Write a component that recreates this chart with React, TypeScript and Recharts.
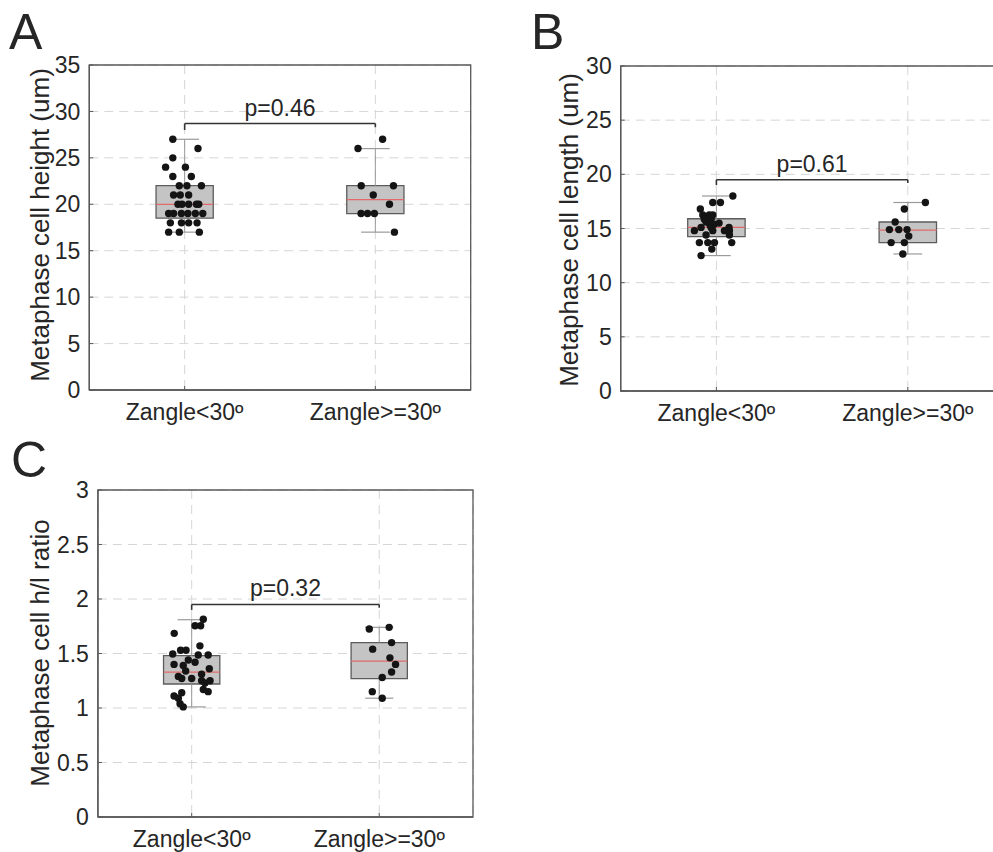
import React from 'react';
import {
  ComposedChart,
  Scatter,
  XAxis,
  YAxis,
  CartesianGrid,
  ReferenceArea,
  ReferenceLine,
} from 'recharts';

const FONT = '"Liberation Sans", Arial, Helvetica, sans-serif';
const TEXT = '#262626';

// ---------- data ----------
const groupLabels = ['Zangle<30º', 'Zangle>=30º'];

// Panel A: metaphase cell height (um)
const heightTicks = [0, 5, 10, 15, 20, 25, 30, 35];
const heightLowY = [27, 26, 25, 24, 24, 23, 23, 22, 22, 22, 21, 21, 21, 20, 20, 20, 20, 20, 19, 19, 19, 19, 19, 19, 18, 18, 18, 18, 17, 17, 17];
const heightLowJitter = [-0.062, 0.07, -0.062, -0.1, 0.004, -0.062, 0.035, -0.028, 0.012, 0.088, -0.058, -0.023, 0.021, -0.035, -0.014, 0.021, 0.062, 0.074, -0.084, -0.058, -0.017, 0.017, 0.056, 0.095, -0.075, -0.017, 0.021, 0.065, -0.084, -0.028, 0.077];
const heightHighY = [27, 26, 22, 22, 21, 20, 19, 19, 19, 17];
const heightHighJitter = [0.038, -0.091, -0.074, 0.095, -0.011, 0.074, -0.075, -0.041, -0.005, 0.1];
const heightLowBox = [17, 18.5, 20, 22, 27]; // lo, q1, median, q3, hi
const heightHighBox = [17, 19, 20.5, 22, 26];
const heightBracket = [28.7, 28.0, 28.3]; // bar, left end, right end
const heightP = 'p=0.46';

// Panel B: metaphase cell length (um)
const lengthTicks = [0, 5, 10, 15, 20, 25, 30];
const lengthLowY = [18.0, 17.4, 17.4, 16.8, 16.25, 16.25, 16.25, 15.85, 15.85, 15.6, 15.4, 15.5, 15.3, 15.1, 15.1, 15.1, 14.8, 14.8, 14.8, 14.8, 14.4, 14.4, 13.7, 13.7, 13.7, 13.7, 13.1, 12.5];
const lengthLowJitter = [0.086, -0.019, 0.021, -0.084, -0.071, -0.037, -0.019, -0.063, -0.028, -0.054, -0.012, 0.014, -0.033, -0.08, -0.028, 0.066, -0.115, -0.019, 0.042, 0.068, -0.054, 0.068, -0.089, -0.045, -0.01, 0.08, -0.024, -0.08];
const lengthHighY = [17.4, 16.8, 15.6, 14.9, 14.9, 14.9, 14.3, 13.7, 13.7, 12.65];
const lengthHighJitter = [0.092, -0.018, -0.066, -0.096, -0.047, -0.004, 0.005, -0.087, -0.018, -0.026];
const lengthLowBox = [12.5, 14.25, 15.1, 15.9, 18.0];
const lengthHighBox = [12.65, 13.7, 14.85, 15.6, 17.4];
const lengthBracket = [19.5, 19.0, 19.2];
const lengthP = 'p=0.61';

// Panel C: metaphase cell h/l ratio
const ratioTicks = [0, 0.5, 1, 1.5, 2, 2.5, 3];
const ratioLowY = [1.814, 1.755, 1.755, 1.685, 1.57, 1.53, 1.53, 1.495, 1.486, 1.486, 1.44, 1.42, 1.4, 1.39, 1.36, 1.34, 1.29, 1.27, 1.27, 1.31, 1.25, 1.25, 1.23, 1.17, 1.15, 1.14, 1.11, 1.09, 1.04, 1.01];
const ratioLowJitter = [0.062, 0.018, 0.048, -0.093, 0.044, -0.059, -0.03, -0.101, 0.035, 0.088, -0.018, 0.018, -0.094, -0.045, 0.094, -0.032, -0.071, -0.053, 0, 0.053, 0.053, 0.098, 0.071, 0.062, 0.088, -0.053, -0.094, -0.071, -0.062, -0.045];
const ratioHighY = [1.725, 1.74, 1.6, 1.54, 1.46, 1.4, 1.33, 1.28, 1.15, 1.09];
const ratioHighJitter = [-0.053, 0.053, 0.066, -0.035, 0.057, 0.087, 0.066, 0.016, -0.037, 0.016];
const ratioLowBox = [1.01, 1.22, 1.33, 1.48, 1.81];
const ratioHighBox = [1.09, 1.27, 1.43, 1.6, 1.74];
const ratioBracket = [1.95, 1.9, 1.92];
const ratioP = 'p=0.32';

// ---------- helpers ----------
const BOX_HALF = 0.15;
const CAP_HALF = 0.075;
const AXIS = '#595959';

type Group = { pos: number; y: number[]; jitter: number[]; box: number[] };

const toPoints = (g: Group) => g.y.map((v, i) => ({ x: g.pos + g.jitter[i], y: v }));

const Dot = (props: any) => {
  const { cx, cy } = props;
  if (cx == null || cy == null) return null;
  return <circle cx={cx} cy={cy} r={3.7} fill="#141414" />;
};

type PanelProps = {
  width: number;
  height: number;
  margin: { top: number; right: number; bottom: number; left: number };
  yAxisWidth: number;
  xAxisHeight: number;
  ticks: number[];
  groups: Group[];
  bracket: number[];
  pText: string;
};

function Panel({ width, height, margin, yAxisWidth, xAxisHeight, ticks, groups, bracket, pText }: PanelProps) {
  const yMax = ticks[ticks.length - 1];
  const points = groups.flatMap(toPoints);
  const tickStyle = { fill: TEXT, fontSize: 23, fontFamily: FONT };
  return (
    <ComposedChart width={width} height={height} margin={margin}>
      <CartesianGrid stroke="#d6d6d6" strokeDasharray="9 6" strokeWidth={1} />
      <XAxis
        type="number"
        dataKey="x"
        domain={[0.5, 2.5]}
        ticks={[1, 2]}
        allowDataOverflow
        tickFormatter={(v: number) => groupLabels[Math.round(v) - 1]}
        tick={tickStyle}
        tickLine={{ stroke: AXIS, strokeWidth: 1 }}
        tickSize={-4}
        tickMargin={18}
        height={xAxisHeight}
        axisLine={{ stroke: AXIS, strokeWidth: 1.3 }}
      />
      <YAxis
        type="number"
        dataKey="y"
        domain={[0, yMax]}
        ticks={ticks}
        allowDataOverflow
        interval={0}
        tick={tickStyle}
        tickLine={{ stroke: AXIS, strokeWidth: 1 }}
        tickSize={-4}
        tickMargin={13}
        width={yAxisWidth}
        axisLine={{ stroke: AXIS, strokeWidth: 1.3 }}
      />
      <ReferenceArea x1={0.5} x2={2.5} y1={0} y2={yMax} fill="none" stroke={AXIS} strokeWidth={1.3} />
      {groups.map((g, i) => {
        const [lo, q1, med, q3, hi] = g.box;
        return (
          <React.Fragment key={i}>
            <ReferenceLine segment={[{ x: g.pos, y: lo }, { x: g.pos, y: q1 }]} stroke="#9a9a9a" strokeWidth={1} />
            <ReferenceLine segment={[{ x: g.pos, y: q3 }, { x: g.pos, y: hi }]} stroke="#9a9a9a" strokeWidth={1} />
            <ReferenceLine segment={[{ x: g.pos - CAP_HALF, y: lo }, { x: g.pos + CAP_HALF, y: lo }]} stroke="#9a9a9a" strokeWidth={1.2} />
            <ReferenceLine segment={[{ x: g.pos - CAP_HALF, y: hi }, { x: g.pos + CAP_HALF, y: hi }]} stroke="#9a9a9a" strokeWidth={1.2} />
            <ReferenceArea x1={g.pos - BOX_HALF} x2={g.pos + BOX_HALF} y1={q1} y2={q3} fill="#c4c4c4" fillOpacity={1} stroke="#5c5c5c" strokeWidth={1.3} />
            <ReferenceLine segment={[{ x: g.pos - BOX_HALF, y: med }, { x: g.pos + BOX_HALF, y: med }]} stroke="#e06a6a" strokeWidth={1.2} />
          </React.Fragment>
        );
      })}
      <ReferenceLine
        segment={[{ x: 1, y: bracket[0] }, { x: 2, y: bracket[0] }]}
        stroke="#333333"
        strokeWidth={1.6}
        label={{ value: pText, position: 'top', offset: 8, fill: TEXT, fontSize: 23, fontFamily: FONT }}
      />
      <ReferenceLine segment={[{ x: 1, y: bracket[0] }, { x: 1, y: bracket[1] }]} stroke="#333333" strokeWidth={1.6} />
      <ReferenceLine segment={[{ x: 2, y: bracket[0] }, { x: 2, y: bracket[2] }]} stroke="#333333" strokeWidth={1.6} />
      <Scatter data={points} isAnimationActive={false} shape={Dot} />
    </ComposedChart>
  );
}

const textBase: React.CSSProperties = {
  position: 'absolute',
  fontFamily: FONT,
  color: TEXT,
  whiteSpace: 'nowrap',
  lineHeight: 1,
};

function YLabel({ x, y, text }: { x: number; y: number; text: string }) {
  return (
    <div style={{ ...textBase, left: x, top: y, fontSize: 26, transform: 'translate(-50%, -50%) rotate(-90deg)' }}>{text}</div>
  );
}

function Letter({ x, y, text }: { x: number; y: number; text: string }) {
  return <div style={{ ...textBase, left: x, top: y, fontSize: 50 }}>{text}</div>;
}

export default function App() {
  return (
    <div style={{ position: 'fixed', left: 0, top: 0, width: 993, height: 852, overflow: 'hidden', background: '#fff' }}>
      <div style={{ position: 'absolute', left: 0, top: 0 }}>
        <Panel
          width={490}
          height={440}
          margin={{ top: 65, right: 19.3, bottom: 10, left: 0 }}
          yAxisWidth={89.3}
          xAxisHeight={40}
          ticks={heightTicks}
          groups={[
            { pos: 1, y: heightLowY, jitter: heightLowJitter, box: heightLowBox },
            { pos: 2, y: heightHighY, jitter: heightHighJitter, box: heightHighBox },
          ]}
          bracket={heightBracket}
          pText={heightP}
        />
      </div>
      <div style={{ position: 'absolute', left: 520, top: 0 }}>
        <Panel
          width={493}
          height={441}
          margin={{ top: 66, right: 9.5, bottom: 10, left: 10 }}
          yAxisWidth={90.7}
          xAxisHeight={40}
          ticks={lengthTicks}
          groups={[
            { pos: 1, y: lengthLowY, jitter: lengthLowJitter, box: lengthLowBox },
            { pos: 2, y: lengthHighY, jitter: lengthHighJitter, box: lengthHighBox },
          ]}
          bracket={lengthBracket}
          pText={lengthP}
        />
      </div>
      <div style={{ position: 'absolute', left: 0, top: 440 }}>
        <Panel
          width={490}
          height={412}
          margin={{ top: 50, right: 17, bottom: 5, left: 0 }}
          yAxisWidth={97.9}
          xAxisHeight={30}
          ticks={ratioTicks}
          groups={[
            { pos: 1, y: ratioLowY, jitter: ratioLowJitter, box: ratioLowBox },
            { pos: 2, y: ratioHighY, jitter: ratioHighJitter, box: ratioHighBox },
          ]}
          bracket={ratioBracket}
          pText={ratioP}
        />
      </div>
      <YLabel x={40} y={225} text="Metaphase cell height (um)" />
      <YLabel x={569} y={230} text="Metaphase cell length (um)" />
      <YLabel x={40} y={653} text="Metaphase cell h/l ratio" />
      <Letter x={9} y={7} text="A" />
      <Letter x={531} y={7} text="B" />
      <Letter x={11} y={435} text="C" />
    </div>
  );
}
